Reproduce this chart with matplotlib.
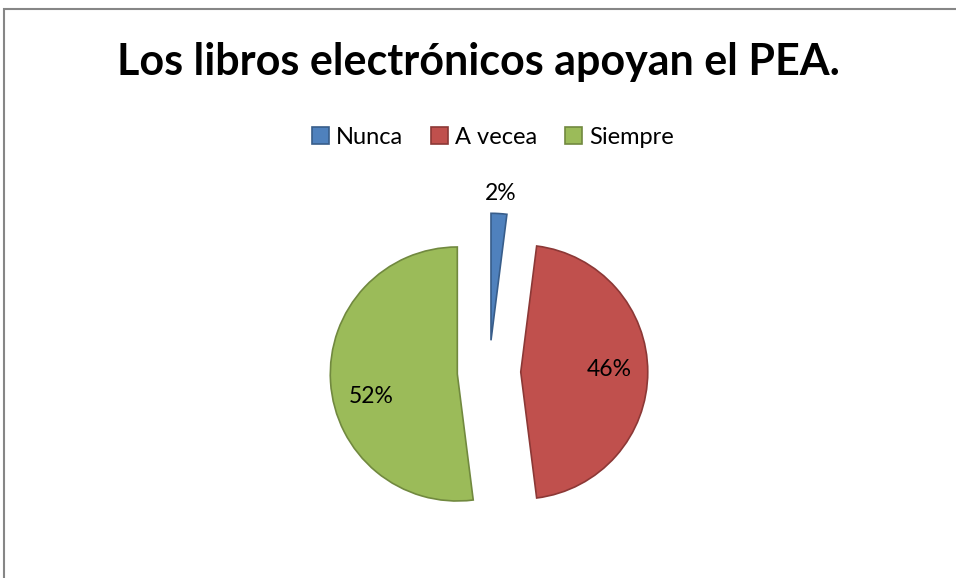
import numpy as np
import matplotlib.pyplot as plt
from matplotlib.patches import Rectangle

# Data
categories = ["Nunca", "A vecea", "Siempre"]
percentages = [2, 46, 52]
colors = ["#4F81BD", "#C0504D", "#9BBB59"]
edge_colors = ["#385D8A", "#8C3836", "#71893F"]
title = "Los libros electrónicos apoyan el PEA."

W, H = 956, 578
fig = plt.figure(figsize=(W / 100, H / 100), dpi=100)
plt.rcParams['font.family'] = ['Lato', 'DejaVu Sans']

# outer chart frame (only top and left visible in the crop)
fig.patches.append(Rectangle((4 / W, -0.1), 1.2, 1.1 - 9 / H, transform=fig.transFigure,
                             fill=False, edgecolor="#868686", linewidth=1.5))

# axes placed so that 1 data unit = 127 px, centre at (489, 372)
r_px = 127
cx, cy = 489, H - 372
ax = fig.add_axes([(cx - 2 * r_px) / W, (cy - 1.5 * r_px) / H, 4 * r_px / W, 3 * r_px / H])

wedges, texts, autotexts = ax.pie(
    percentages, colors=colors, startangle=90, counterclock=False,
    explode=[0.25, 0.25, 0.25], autopct="%1.0f%%", pctdistance=0.7,
    wedgeprops=dict(linewidth=1.2), textprops=dict(fontsize=16.5, color="black"))
for w, ec in zip(wedges, edge_colors):
    w.set_edgecolor(ec)

# small slice label goes outside
w = wedges[0]
ang = np.deg2rad((w.theta1 + w.theta2) / 2)
autotexts[0].set_position((w.center[0] + 1.16 * np.cos(ang), w.center[1] + 1.16 * np.sin(ang)))

# nudge the inner labels like the original
x, y = autotexts[1].get_position()
autotexts[1].set_position((x, y + 0.02))
x, y = autotexts[2].get_position()
autotexts[2].set_position((x + 0.02, y - 0.13))

ax.set_xlim(-2, 2)
ax.set_ylim(-1.5, 1.5)
ax.set_aspect("equal")
ax.axis("off")

fig.text(478 / W, 1 - 62 / H, title, ha="center", va="center", fontsize=31, fontweight="bold")

fig.legend(wedges, categories, loc="center", bbox_to_anchor=(493 / W, 1 - 137 / H), ncol=3,
           frameon=False, fontsize=17, handlelength=0.7, handleheight=0.7,
           handletextpad=0.3, columnspacing=1.2)

fig.savefig("out.png", dpi=100)
